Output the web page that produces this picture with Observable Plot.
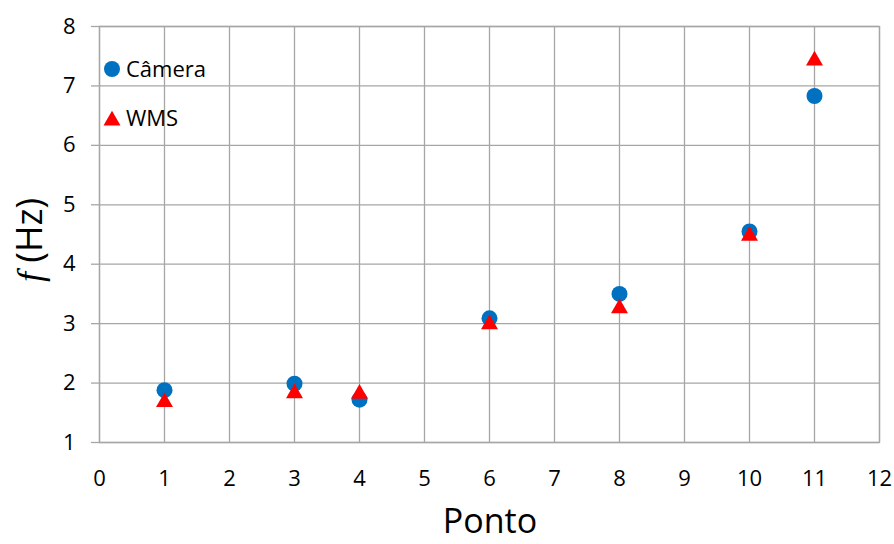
<!DOCTYPE html>
<html>
<head>
<meta charset="utf-8">
<script src="https://cdn.jsdelivr.net/npm/d3@7"></script>
<script src="https://cdn.jsdelivr.net/npm/@observablehq/plot@0.6"></script>
<style>
  html, body { margin: 0; padding: 0; background: #fff; }
  #chart svg { display: block; }
</style>
</head>
<body>
<div id="chart"></div>
<script>
// Measurement points and natural frequency estimates
const pontos = [1, 3, 4, 6, 8, 10, 11];
const camera = [1.88, 1.99, 1.72, 3.09, 3.50, 4.55, 6.83];
const wms = [1.72, 1.87, 1.86, 3.03, 3.30, 4.52, 7.47];
const xTicks = [0, 1, 2, 3, 4, 5, 6, 7, 8, 9, 10, 11, 12];
const yTicks = [1, 2, 3, 4, 5, 6, 7, 8];

const serieCamera = pontos.map((p, i) => ({ponto: p, f: camera[i]}));
const serieWms = pontos.map((p, i) => ({ponto: p, f: wms[i]}));

const BLUE = "#0070c0";
const RED = "#ff0000";
const GRID = "#a6a6a6";
const FONT = "'Open Sans', sans-serif";
const TRI_R = 6.3;

const plot = Plot.plot({
  width: 894,
  height: 544,
  marginLeft: 99,
  marginRight: 15,
  marginTop: 26,
  marginBottom: 102,
  style: {fontFamily: FONT, fontSize: "22px", color: "#000", background: "#fff"},
  x: {domain: [0, 12], ticks: xTicks},
  y: {domain: [1, 8], ticks: yTicks},
  marks: [
    Plot.gridX(xTicks, {stroke: GRID, strokeOpacity: 1, strokeWidth: 1.3}),
    Plot.gridY(yTicks, {stroke: GRID, strokeOpacity: 1, strokeWidth: 1.3}),
    Plot.frame({stroke: GRID, strokeWidth: 1.3}),
    Plot.axisX(xTicks, {tickSize: 0, tickPadding: 28, label: null, fill: "#000", tickFormat: d3.format("d")}),
    Plot.axisY(yTicks, {tickSize: 8, tickPadding: 16, label: null, stroke: GRID, strokeOpacity: 1, strokeWidth: 1.3, fill: "#000", tickFormat: d3.format("d")}),
    Plot.dot(serieCamera, {x: "ponto", y: "f", r: 8, fill: BLUE, stroke: null}),
    // triangles are nudged so their bounding box, not their centroid, sits on the value
    Plot.dot(serieWms, {x: "ponto", y: "f", r: TRI_R, symbol: "triangle", fill: RED, stroke: null, dy: 2.5})
  ]
});

document.getElementById("chart").appendChild(plot);

// Axis titles and inset legend
const svg = d3.select(plot);
const xs = plot.scale("x");
const ys = plot.scale("y");
const xMid = (xs.range[0] + xs.range[1]) / 2;
const yMid = (ys.range[0] + ys.range[1]) / 2;

svg.append("text")
  .attr("x", xMid + 1)
  .attr("y", ys.range[0] + 91)
  .attr("text-anchor", "middle")
  .attr("font-family", FONT)
  .attr("font-size", 34)
  .attr("fill", "#000")
  .text("Ponto");

const yLabel = svg.append("text")
  .attr("transform", `translate(${xs.range[0] - 57},${yMid + 6}) rotate(-90)`)
  .attr("text-anchor", "middle")
  .attr("font-family", FONT)
  .attr("font-size", 36)
  .attr("fill", "#000");
yLabel.append("tspan")
  .attr("font-family", "'Liberation Serif', 'DejaVu Serif', serif")
  .attr("font-style", "italic")
  .text("f");
yLabel.append("tspan").text(" (Hz)");

const legend = svg.append("g")
  .attr("transform", `translate(${xs.range[0] + 13},0)`)
  .attr("text-anchor", "start");
legend.append("circle")
  .attr("cx", 0).attr("cy", 69).attr("r", 8).attr("fill", BLUE);
legend.append("path")
  .attr("d", d3.symbol(d3.symbolTriangle, Math.PI * TRI_R * TRI_R)())
  .attr("transform", "translate(0,120.5)")
  .attr("fill", RED);
legend.append("text")
  .attr("x", 14).attr("y", 77)
  .attr("font-family", FONT).attr("font-size", 22).attr("fill", "#000")
  .text("Câmera");
legend.append("text")
  .attr("x", 14).attr("y", 126)
  .attr("font-family", FONT).attr("font-size", 22).attr("fill", "#000")
  .text("WMS");
</script>
</body>
</html>
